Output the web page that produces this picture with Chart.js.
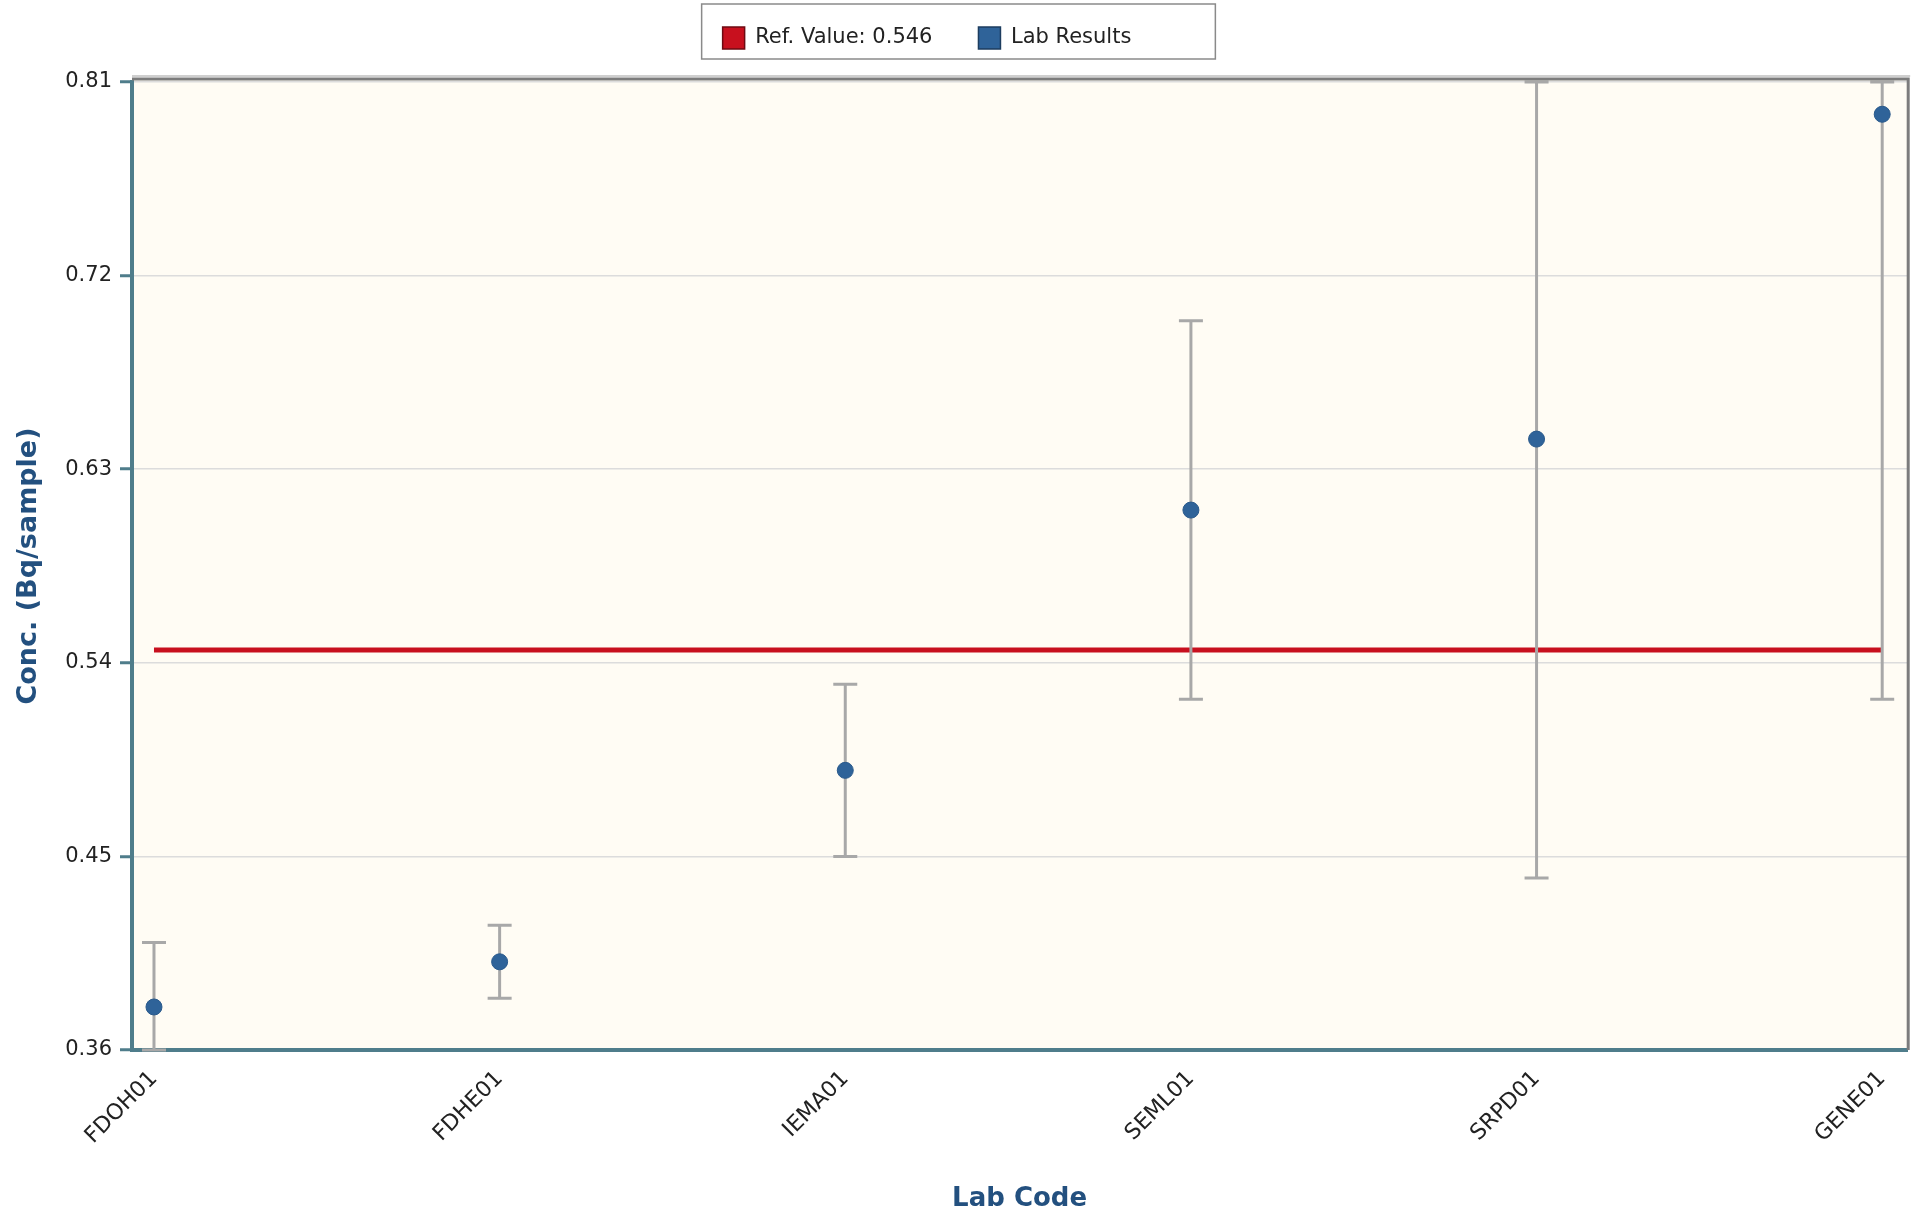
<!DOCTYPE html>
<html>
<head>
<meta charset="utf-8">
<title>Lab Results</title>
<script src="https://cdn.jsdelivr.net/npm/chart.js@4.4.0/dist/chart.umd.min.js"></script>
<style>
  html, body { margin: 0; padding: 0; background: #fff; }
  canvas { display: block; }
</style>
</head>
<body>
<canvas id="labChart" width="1917" height="1215"></canvas>
<script>
// Values
const labCodes = ['FDOH01', 'FDHE01', 'IEMA01', 'SEML01', 'SRPD01', 'GENE01'];
const labValues = [0.380, 0.401, 0.490, 0.611, 0.644, 0.795];
const labUncert = [0.030, 0.017, 0.040, 0.088, 0.204, 0.272];
const refValue = 0.546;
const yTicks = [0.36, 0.45, 0.54, 0.63, 0.72, 0.81];

const FONT = 'DejaVu Sans';
const TEXT = '#222';
const TITLE = '#23507f';
const AXIS = '#4f7d8b';
const RED = '#c8101e';
const BLUE = '#2f6399';

// cream plot background + gray top/right frame
const plotFrame = {
  id: 'plotFrame',
  beforeDraw(chart) {
    const { ctx, chartArea: a } = chart;
    ctx.save();
    ctx.fillStyle = '#fffcf4';
    ctx.fillRect(a.left, a.top - 4, a.width, a.height + 4);
    ctx.restore();
  },
  afterDraw(chart) {
    const { ctx, chartArea: a } = chart;
    ctx.save();
    ctx.lineWidth = 2;
    ctx.strokeStyle = '#cfcfcf';
    ctx.beginPath();
    ctx.moveTo(a.left, a.top - 6);
    ctx.lineTo(a.right + 3, a.top - 6);
    ctx.stroke();
    ctx.lineWidth = 3;
    ctx.strokeStyle = '#7c7c7c';
    ctx.beginPath();
    ctx.moveTo(a.left, a.top - 3);
    ctx.lineTo(a.right + 1, a.top - 3);
    ctx.lineTo(a.right + 1, a.bottom);
    ctx.stroke();

    // box round the legend
    const hb = chart.legend.legendHitBoxes;
    if (hb && hb.length) {
      const last = hb[hb.length - 1];
      const x0 = hb[0].left - 21;
      const x1 = last.left + last.width + 84;
      ctx.lineWidth = 1.5;
      ctx.strokeStyle = '#8a8a8a';
      ctx.strokeRect(x0, 4, x1 - x0, 55);
    }
    ctx.restore();
  }
};

// error bars drawn after the ref line, before the points
const errorBars = {
  id: 'errorBars',
  afterDatasetDraw(chart, args) {
    if (args.index !== 0) return;
    const { ctx, chartArea: a, scales: { x, y } } = chart;
    ctx.save();
    ctx.beginPath();
    ctx.rect(a.left, a.top - 2, a.width, a.height + 4);
    ctx.clip();
    ctx.strokeStyle = '#a8a8a8';
    ctx.lineWidth = 3;
    labValues.forEach((v, i) => {
      const px = x.getPixelForValue(i);
      const top = y.getPixelForValue(Math.min(v + labUncert[i], y.max));
      const bot = y.getPixelForValue(Math.max(v - labUncert[i], y.min));
      ctx.beginPath();
      ctx.moveTo(px, top); ctx.lineTo(px, bot);
      ctx.moveTo(px - 12, top); ctx.lineTo(px + 12, top);
      ctx.moveTo(px - 12, bot); ctx.lineTo(px + 12, bot);
      ctx.stroke();
    });
    ctx.restore();
  }
};

// fixed legend height, legend row pulled up and a bit left
const legendSpot = {
  id: 'legendSpot',
  beforeLayout(chart) {
    const lg = chart.legend;
    if (lg && !lg._patched) {
      const fit = Object.getPrototypeOf(lg).fit;
      lg.fit = function () { fit.call(this); this.height = 82; };
      lg._patched = true;
    }
  },
  afterLayout(chart) {
    const lg = chart.legend;
    lg.top = -19;
    lg.bottom = lg.top + lg.height;
    lg.left -= 32;
    lg.right -= 32;
  }
};

const legendFill = [RED, BLUE];
const legendStroke = ['#6e0a12', '#1d3d5f'];

const ctx = document.getElementById('labChart').getContext('2d');

const chart = new Chart(ctx, {
  type: 'scatter',
  data: {
    datasets: [
      {
        type: 'line',
        label: 'Ref. Value: ' + refValue,
        data: [{ x: 0, y: refValue }, { x: labCodes.length - 1, y: refValue }],
        borderColor: RED,
        backgroundColor: RED,
        borderWidth: 5,
        pointRadius: 0,
        order: 1
      },
      {
        label: 'Lab Results',
        data: labValues.map((v, i) => ({ x: i, y: v })),
        backgroundColor: BLUE,
        borderColor: '#2a5a8c',
        borderWidth: 1,
        pointRadius: 8,
        order: 0
      }
    ]
  },
  options: {
    responsive: false,
    animation: false,
    layout: { padding: { left: 10, right: 9, top: 0, bottom: 0 } },
    plugins: {
      tooltip: { enabled: false },
      legend: {
        position: 'top',
        labels: {
          boxWidth: 22,
          boxHeight: 22,
          padding: 46,
          color: TEXT,
          font: { family: FONT, size: 21 },
          generateLabels(chart) {
            return chart.data.datasets.map((ds, i) => ({
              text: ds.label,
              fillStyle: legendFill[i],
              strokeStyle: legendStroke[i],
              lineWidth: 1.5,
              hidden: false,
              datasetIndex: i,
              fontColor: TEXT
            }));
          }
        }
      }
    },
    scales: {
      x: {
        type: 'linear',
        min: -0.0636,
        max: 5.0723,
        afterBuildTicks(axis) { axis.ticks = labCodes.map((_, i) => ({ value: i })); },
        afterFit(axis) { axis.height = 165; },
        grid: { color: 'transparent', drawTicks: false },
        border: { color: AXIS, width: 4 },
        ticks: {
          callback: v => labCodes[v],
          minRotation: 45,
          maxRotation: 45,
          autoSkip: false,
          padding: 16,
          color: TEXT,
          font: { family: FONT, size: 22 }
        },
        title: {
          display: true,
          text: 'Lab Code',
          color: TITLE,
          font: { family: FONT, size: 26, weight: 'bold' },
          padding: { top: 0, bottom: 0 }
        }
      },
      y: {
        min: 0.36,
        max: 0.81,
        afterBuildTicks(axis) { axis.ticks = yTicks.map(v => ({ value: v })); },
        afterFit(axis) { axis.width = 122; },
        grid: { color: '#dcdcdc', lineWidth: 1.5, tickColor: AXIS, tickLength: 12, tickWidth: 3 },
        border: { color: AXIS, width: 4 },
        ticks: {
          callback: v => v.toFixed(2),
          padding: 8,
          color: TEXT,
          font: { family: FONT, size: 21 }
        },
        title: {
          display: true,
          text: 'Conc. (Bq/sample)',
          color: TITLE,
          font: { family: FONT, size: 27, weight: 'bold' },
          padding: { top: 3, bottom: 0 }
        }
      }
    }
  },
  plugins: [legendSpot, plotFrame, errorBars]
});
</script>
</body>
</html>
